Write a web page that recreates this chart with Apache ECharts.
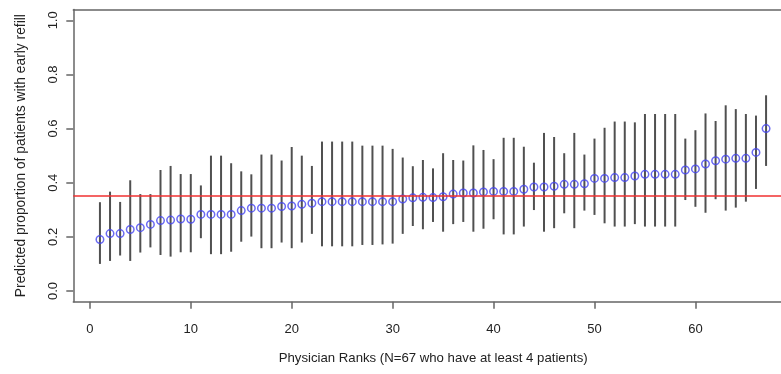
<!DOCTYPE html>
<html>
<head>
<meta charset="utf-8">
<script src="https://cdn.jsdelivr.net/npm/echarts@6/dist/echarts.min.js"></script>
<style>html,body{margin:0;padding:0;background:#fff}#c{width:781px;height:374px}</style>
</head>
<body>
<div id="c"></div>
<script>
const ranks = Array.from({length: 67}, (_, i) => i + 1);
const estimates = [0.190,0.212,0.212,0.227,0.234,0.246,0.260,0.262,0.266,0.265,
  0.283,0.283,0.283,0.283,0.297,0.306,0.306,0.306,0.312,0.314,
  0.320,0.324,0.330,0.330,0.330,0.330,0.330,0.330,0.330,0.330,
  0.340,0.344,0.346,0.345,0.348,0.358,0.362,0.362,0.366,0.368,
  0.368,0.368,0.376,0.384,0.384,0.387,0.394,0.394,0.396,0.416,
  0.416,0.419,0.419,0.425,0.431,0.431,0.431,0.431,0.447,0.451,
  0.469,0.481,0.487,0.490,0.490,0.512,0.600];
const upper = [0.328,0.367,0.329,0.409,0.358,0.358,0.447,0.462,0.432,0.432,
  0.390,0.500,0.500,0.472,0.442,0.431,0.504,0.504,0.482,0.532,
  0.500,0.462,0.552,0.552,0.552,0.552,0.537,0.537,0.537,0.525,
  0.493,0.461,0.484,0.453,0.509,0.484,0.482,0.538,0.521,0.487,
  0.566,0.566,0.533,0.474,0.584,0.569,0.509,0.584,0.504,0.563,
  0.603,0.626,0.626,0.623,0.654,0.654,0.654,0.654,0.563,0.594,
  0.656,0.628,0.686,0.672,0.654,0.648,0.723];
const lower = [0.100,0.111,0.131,0.111,0.142,0.161,0.133,0.127,0.143,0.143,
  0.195,0.136,0.136,0.145,0.182,0.201,0.158,0.158,0.179,0.158,
  0.179,0.211,0.165,0.165,0.165,0.165,0.170,0.170,0.172,0.175,
  0.211,0.240,0.228,0.255,0.219,0.247,0.255,0.219,0.230,0.265,
  0.209,0.209,0.238,0.299,0.219,0.232,0.287,0.232,0.297,0.281,
  0.250,0.238,0.238,0.247,0.238,0.238,0.238,0.238,0.336,0.311,
  0.289,0.339,0.297,0.308,0.330,0.377,0.462];
const overallRate = 0.35;
const xTicks = [0, 10, 20, 30, 40, 50, 60];
const yTicks = [0, 0.2, 0.4, 0.6, 0.8, 1.0];

const chart = echarts.init(document.getElementById('c'), null, {renderer: 'canvas'});
const font = 'Liberation Sans, Arial, sans-serif';
const axisLineStyle = {color: '#666', width: 1.5};
chart.setOption({
  animation: false,
  grid: {left: 73.3, top: 9.5, bottom: 72.2, right: 0, show: false},
  xAxis: [{
    type: 'value', min: -1.64, max: 68.48, position: 'bottom',
    axisLine: {show: true, onZero: false, lineStyle: axisLineStyle},
    splitLine: {show: false},
    axisTick: {show: true, length: 7, lineStyle: axisLineStyle, customValues: xTicks},
    axisLabel: {customValues: xTicks, margin: 21, fontSize: 13, fontFamily: font, color: '#222'},
    name: 'Physician Ranks (N=67 who have at least 4 patients)',
    nameLocation: 'middle', nameGap: 50,
    nameTextStyle: {fontSize: 13.2, fontFamily: font, color: '#222', padding: [0, 0, 0, 12]}
  }, {
    type: 'value', min: -1.64, max: 68.48, position: 'top',
    axisLine: {show: true, onZero: false, lineStyle: axisLineStyle},
    axisTick: {show: false}, axisLabel: {show: false}, splitLine: {show: false}
  }],
  yAxis: {
    type: 'value', min: -0.04, max: 1.04,
    axisLine: {show: true, onZero: false, lineStyle: axisLineStyle},
    splitLine: {show: false},
    axisTick: {show: true, length: 7, lineStyle: axisLineStyle, customValues: yTicks},
    axisLabel: {customValues: yTicks, rotate: 90, margin: 13, fontSize: 13, fontFamily: font, color: '#222',
      formatter: v => v.toFixed(1)},
    name: 'Predicted proportion of patients with early refill',
    nameLocation: 'middle', nameGap: 45,
    nameTextStyle: {fontSize: 13.8, fontFamily: font, color: '#222'}
  },
  series: [
    {
      type: 'custom',
      data: ranks.map((r, i) => [r, lower[i], upper[i]]),
      renderItem: function (params, api) {
        const p1 = api.coord([api.value(0), api.value(1)]);
        const p2 = api.coord([api.value(0), api.value(2)]);
        return {type: 'line', shape: {x1: p1[0], y1: p1[1], x2: p2[0], y2: p2[1]},
                style: {stroke: '#505050', lineWidth: 2}};
      },
      z: 2
    },
    {
      type: 'scatter',
      data: ranks.map((r, i) => [r, estimates[i]]),
      symbol: 'circle', symbolSize: 7.5,
      itemStyle: {color: 'rgba(0,0,0,0)', borderColor: '#4545f0', borderWidth: 1.5},
      z: 3,
      markLine: {
        silent: true, symbol: 'none', label: {show: false},
        lineStyle: {color: '#f03030', width: 1.5, type: 'solid'},
        data: [{yAxis: overallRate}]
      }
    }
  ]
});
</script>
</body>
</html>
